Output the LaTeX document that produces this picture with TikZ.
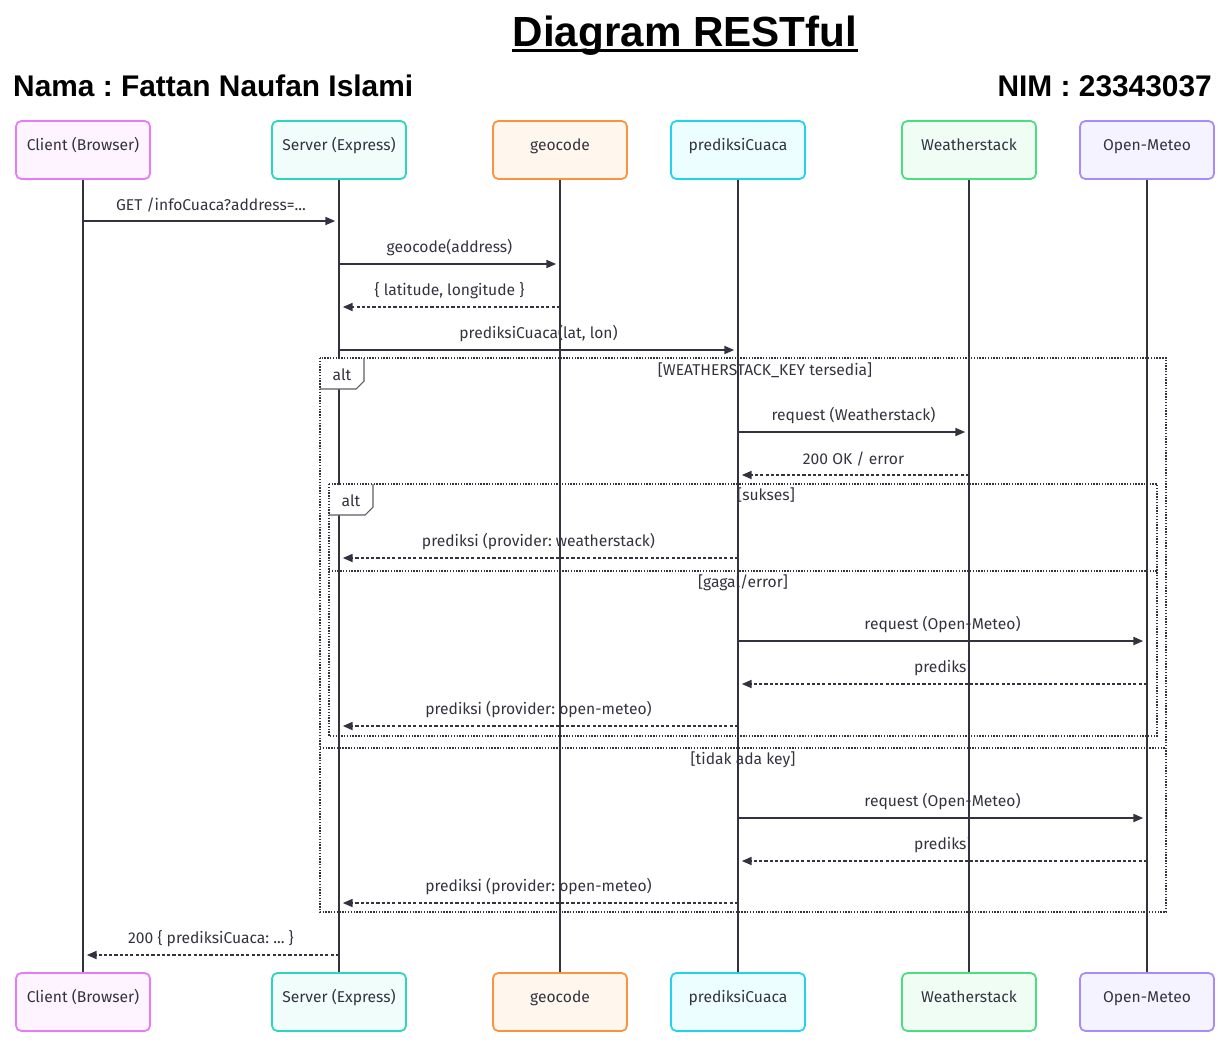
\documentclass[tikz,border=0pt]{standalone}
\usepackage{fontspec}
\setmainfont{Fira Sans}
\newfontfamily\headfont{Liberation Sans}
\usepackage{tikz}
\usetikzlibrary{arrows.meta, calc}

\definecolor{ink}{HTML}{333340}
\definecolor{cliD}{HTML}{E879F9}\definecolor{cliL}{HTML}{FDF4FF}
\definecolor{srvD}{HTML}{2DD4BF}\definecolor{srvL}{HTML}{F0FDFA}
\definecolor{geoD}{HTML}{FB923C}\definecolor{geoL}{HTML}{FFF7ED}
\definecolor{preD}{HTML}{22D3EE}\definecolor{preL}{HTML}{ECFEFF}
\definecolor{wsD}{HTML}{4ADE80}\definecolor{wsL}{HTML}{F0FDF4}
\definecolor{omD}{HTML}{A78BFA}\definecolor{omL}{HTML}{F5F3FF}

\tikzset{
  actor/.style={draw, rounded corners=3pt, line width=1pt, minimum width=2.68cm,
    minimum height=1.16cm, text=ink, font=\fontsize{8.9}{10}\selectfont,
    text height=6pt, text depth=5pt},
  life/.style={ink, line width=1pt},
  msg/.style={ink, line width=0.8pt, shorten >=2.2pt, -{Triangle[length=5.5pt,width=4.6pt]}},
  reply/.style={msg, dash pattern=on 1.8pt off 1.2pt},
  lbl/.style={text=ink, font=\fontsize{8.9}{10}\selectfont, above=1.2pt, midway},
  frame/.style={ink, line width=0.6pt, dash pattern=on 0.8pt off 0.8pt},
  tag/.style={ink!80, line width=0.6pt, fill=white},
  cond/.style={text=ink, font=\fontsize{8.9}{10}\selectfont},
}

\begin{document}
\frenchspacing
\begin{tikzpicture}[x=0.02cm, y=-0.02cm]
    \useasboundingbox (0,0) rectangle (1230,1042);

    % heading
    \node[font=\headfont\bfseries\fontsize{24}{28}\selectfont, inner sep=0pt] (title) at (685,36) {Diagram RESTful};
    \draw[line width=1.5pt] ([yshift=-2pt]title.base west) -- ([yshift=-2pt]title.base east);
    \node[font=\headfont\bfseries\fontsize{17}{20}\selectfont, anchor=west] (nama) at (7,86) {Nama : Fattan Naufan Islami};
    \node[font=\headfont\bfseries\fontsize{17}{20}\selectfont, anchor=east] (nim) at (1218,86) {NIM : 23343037};

    % participants, top and bottom
    \foreach \n/\x/\t in {cli/83/Client (Browser), srv/339/Server (Express), geo/560/geocode,
                          pre/738/prediksiCuaca, ws/969/Weatherstack, om/1147/Open-Meteo} {
        \node[actor, draw=\n D, fill=\n L] (\n-top) at (\x,150) {\t};
        \node[actor, draw=\n D, fill=\n L] (\n-bot) at (\x,1002) {\t};
        \draw[life] (\n-top) -- (\n-bot);
    }

    % message levels
    \foreach \i/\y in {1/221, 2/264, 3/307, 4/350, 5/432, 6/475, 7/558, 8/641, 9/684,
                       10/726, 11/818, 12/861, 13/903, 14/955}
        \coordinate (m\i) at (0,\y);

    % alt frames
    \draw[frame] (320,358) rectangle (1166,912);
    \draw[frame] (320,748) -- (1166,748);
    \fill[white] (321,359) rectangle (364,389);
    \draw[tag] (320,389) -- (356,389) -- (364,381) -- (364,358);
    \node[cond] (alt1) at (342,375) {alt};
    \node[cond] (c1) at (765,370) {[WEATHERSTACK\_KEY tersedia]};
    \node[cond] (c4) at (743,760) {[tidak ada key]};

    \draw[frame] (329,484) rectangle (1157,736);
    \draw[frame] (329,571) -- (1157,571);
    \fill[white] (330,485) rectangle (373,515);
    \draw[tag] (329,515) -- (365,515) -- (373,507) -- (373,484);
    \node[cond] (alt2) at (351,501) {alt};
    \node[cond] (c2) at (766,495) {[sukses]};
    \node[cond] (c3) at (743,583) {[gagal/error]};

    % messages
    \draw[msg] (cli-top |- m1) -- (srv-top |- m1) node[lbl] {GET /infoCuaca?address=...};
    \draw[msg] (srv-top |- m2) -- (geo-top |- m2) node[lbl] {geocode(address)};
    \draw[reply] (geo-top |- m3) -- (srv-top |- m3) node[lbl] {\{ latitude, longitude \}};
    \draw[msg] (srv-top |- m4) -- (pre-top |- m4) node[lbl] {prediksiCuaca(lat, lon)};
    \draw[msg] (pre-top |- m5) -- (ws-top |- m5) node[lbl] {request (Weatherstack)};
    \draw[reply] (ws-top |- m6) -- (pre-top |- m6) node[lbl] {200 OK / error};
    \draw[reply] (pre-top |- m7) -- (srv-top |- m7) node[lbl] {prediksi (provider: weatherstack)};
    \draw[msg] (pre-top |- m8) -- (om-top |- m8) node[lbl] {request (Open-Meteo)};
    \draw[reply] (om-top |- m9) -- (pre-top |- m9) node[lbl] {prediksi};
    \draw[reply] (pre-top |- m10) -- (srv-top |- m10) node[lbl] {prediksi (provider: open-meteo)};
    \draw[msg] (pre-top |- m11) -- (om-top |- m11) node[lbl] {request (Open-Meteo)};
    \draw[reply] (om-top |- m12) -- (pre-top |- m12) node[lbl] {prediksi};
    \draw[reply] (pre-top |- m13) -- (srv-top |- m13) node[lbl] {prediksi (provider: open-meteo)};
    \draw[reply] (srv-top |- m14) -- (cli-top |- m14) node[lbl] {200 \{ prediksiCuaca: ... \}};
\end{tikzpicture}
\end{document}
